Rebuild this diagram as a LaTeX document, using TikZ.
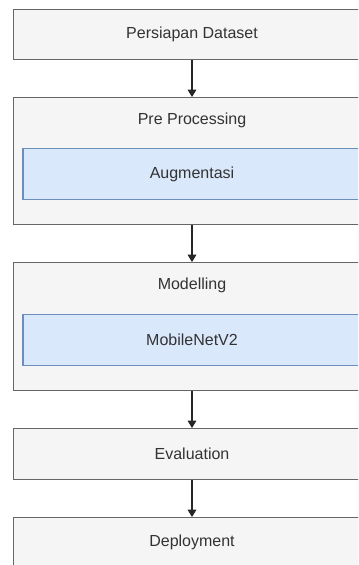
\documentclass[tikz,border=0pt]{standalone}
\usepackage{fontspec}
\setmainfont{Liberation Sans}
\usetikzlibrary{arrows.meta}
\definecolor{outerfill}{HTML}{F5F5F5}
\definecolor{outerline}{HTML}{666666}
\definecolor{innerfill}{HTML}{DAE8FC}
\definecolor{innerline}{HTML}{6C8EBF}
\definecolor{txt}{HTML}{333333}
\tikzset{
  boxfont/.style={font=\fontsize{12pt}{14pt}\selectfont},
  outerbox/.style={draw=outerline, fill=outerfill, line width=0.9pt, minimum width=267.75pt, inner sep=0pt, anchor=north, text=txt, boxfont},
  innerbox/.style={draw=innerline, fill=innerfill, line width=0.9pt, minimum width=253.5pt, minimum height=38.25pt, inner sep=0pt, anchor=north, text=txt, boxfont},
  titletext/.style={text=txt, inner sep=0pt, boxfont},
  flow/.style={draw=black!85, line width=0.9pt, -{Triangle[width=6.5pt,length=5.5pt]}}
}
\begin{document}
\begin{tikzpicture}[x=0.75pt,y=-0.75pt]
\clip (0,0) rectangle (358,565);
\fill[white] (0,0) rectangle (358,565);
\node[outerbox, minimum height=37.5pt] (persiapan) at (192,9) {Persiapan Dataset};
\node[outerbox, minimum height=95.25pt] (pre) at (192,97) {};
\node[titletext] (pretitle) at (192,120) {Pre Processing};
\node[innerbox] (aug) at (192,148) {Augmentasi};
\node[outerbox, minimum height=96pt] (model) at (192,262) {};
\node[titletext] (modeltitle) at (192,285) {Modelling};
\node[innerbox] (mobile) at (192,314) {MobileNetV2};
\node[outerbox, minimum height=38.25pt] (eval) at (192,428) {Evaluation};
\node[outerbox, minimum height=37.5pt] (deploy) at (192,517) {Deployment};
\draw[flow] (persiapan) -- (pre);
\draw[flow] (pre) -- (model);
\draw[flow] (model) -- (eval);
\draw[flow] (eval) -- (deploy);
\end{tikzpicture}
\end{document}
